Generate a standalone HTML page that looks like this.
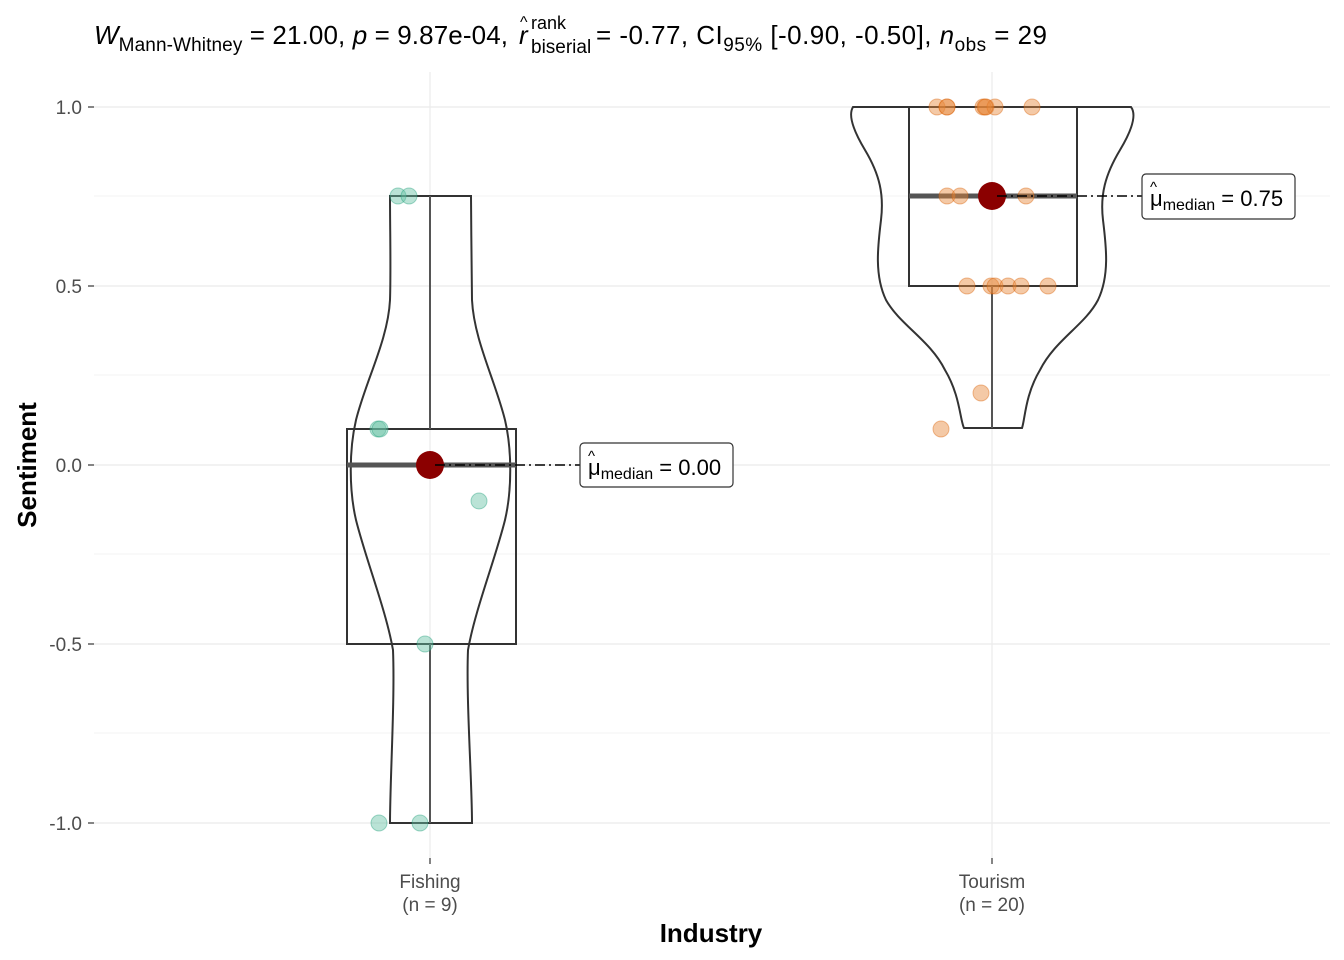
<!DOCTYPE html>
<html><head><style>body{margin:0;background:#fff}svg{display:block;font-family:"Liberation Sans",sans-serif}</style></head>
<body>
<svg width="1344" height="960" viewBox="0 0 1344 960">
<g stroke="#ebebeb" stroke-width="1.2">
<line x1="94" x2="1330" y1="107" y2="107"/><line x1="94" x2="1330" y1="286" y2="286"/><line x1="94" x2="1330" y1="465" y2="465"/><line x1="94" x2="1330" y1="644" y2="644"/><line x1="94" x2="1330" y1="823" y2="823"/>
<line x1="430" x2="430" y1="72" y2="858"/><line x1="992" x2="992" y1="72" y2="858"/>
</g>
<g stroke="#f3f3f3" stroke-width="1">
<line x1="94" x2="1330" y1="196" y2="196"/><line x1="94" x2="1330" y1="375" y2="375"/><line x1="94" x2="1330" y1="554" y2="554"/><line x1="94" x2="1330" y1="733" y2="733"/>
</g>
<g stroke="#333" stroke-width="1.2">
<line x1="88" x2="94" y1="107" y2="107"/><line x1="88" x2="94" y1="286" y2="286"/><line x1="88" x2="94" y1="465" y2="465"/><line x1="88" x2="94" y1="644" y2="644"/><line x1="88" x2="94" y1="823" y2="823"/>
<line x1="430" x2="430" y1="858" y2="864"/><line x1="992" x2="992" y1="858" y2="864"/>
</g>
<g font-size="19" fill="#4d4d4d" text-anchor="end">
<text x="82" y="114">1.0</text><text x="82" y="293">0.5</text><text x="82" y="472">0.0</text><text x="82" y="651">-0.5</text><text x="82" y="830">-1.0</text>
</g>
<g font-size="19" fill="#4d4d4d" text-anchor="middle">
<text x="430" y="888">Fishing</text><text x="430" y="911">(n = 9)</text>
<text x="992" y="888">Tourism</text><text x="992" y="911">(n = 20)</text>
</g>
<text x="711" y="942" font-size="26" font-weight="bold" text-anchor="middle">Industry</text>
<text transform="translate(36,465) rotate(-90)" font-size="26" font-weight="bold" text-anchor="middle">Sentiment</text>
<text x="94" y="44" font-size="26" fill="#000" textLength="414" lengthAdjust="spacing"><tspan font-style="italic">W</tspan><tspan font-size="19" dy="7">Mann-Whitney</tspan><tspan dy="-7"> = 21.00, </tspan><tspan font-style="italic">p</tspan><tspan> = 9.87e-04,</tspan></text>
<text x="519" y="44" font-size="26" fill="#000"><tspan font-style="italic">r</tspan></text>
<text x="531" y="29" font-size="18">rank</text>
<text x="531" y="53" font-size="19">biserial</text>
<text x="520" y="27" font-size="16">^</text>
<text x="596" y="44" font-size="26" fill="#000" textLength="451" lengthAdjust="spacing">= -0.77, CI<tspan font-size="19" dy="7">95%</tspan><tspan dy="-7"> [-0.90, -0.50], </tspan><tspan font-style="italic">n</tspan><tspan font-size="19" dy="7">obs</tspan><tspan dy="-7"> = 29</tspan></text>
<path fill="none" stroke="#333" stroke-width="2" d="M390,196 L471,196 C471,230 472,270 472,300 C474,340 495,380 505,420 C512,450 512,490 505,520 C495,560 475,610 468,650 C466,700 472,780 472,823 L390,823 C390,780 395,700 393,650 C386,610 366,560 356,520 C349,490 349,450 356,420 C366,380 388,340 390,300 C391,270 390,230 390,196 Z"/>
<path fill="none" stroke="#333" stroke-width="2" d="M853,107 L1131,107 C1137,115 1132,130 1120,150 C1105,175 1100,195 1103,220 C1106,245 1110,275 1098,300 C1085,325 1055,340 1040,370 C1025,395 1025,420 1022,428 L964,428 C960,420 960,395 945,370 C930,340 900,325 886,300 C874,275 878,245 881,220 C884,195 880,175 865,150 C853,130 848,115 853,107 Z"/>
<g fill="none" stroke="#333" stroke-width="2">
<rect x="347" y="429" width="169" height="215"/>
<rect x="909" y="107" width="168" height="179"/>
</g>
<g stroke="#555" stroke-width="2">
<line x1="430" x2="430" y1="196" y2="429"/><line x1="430" x2="430" y1="644" y2="823"/>
<line x1="992" x2="992" y1="286" y2="428"/>
</g>
<g stroke="#555" stroke-width="5"><line x1="347" x2="516" y1="465" y2="465"/><line x1="909" x2="1077" y1="196" y2="196"/></g>
<g fill="#66c2a5" fill-opacity="0.45" stroke="#1b9e77" stroke-opacity="0.4">
<circle cx="398" cy="196" r="8"/><circle cx="409" cy="196" r="8"/><circle cx="378" cy="429" r="8"/><circle cx="380" cy="429" r="8"/><circle cx="479" cy="501" r="8"/><circle cx="425" cy="644" r="8"/><circle cx="379" cy="823" r="8"/><circle cx="420" cy="823" r="8"/>
</g>
<g fill="#e6883a" fill-opacity="0.45" stroke="#d95f02" stroke-opacity="0.4">
<circle cx="937" cy="107" r="8"/><circle cx="947" cy="107" r="8"/><circle cx="983" cy="107" r="8"/><circle cx="986" cy="107" r="8"/><circle cx="995" cy="107" r="8"/><circle cx="1032" cy="107" r="8"/><circle cx="947" cy="107" r="8"/><circle cx="985" cy="107" r="8"/>
<circle cx="947" cy="196" r="8"/><circle cx="960" cy="196" r="8"/><circle cx="1026" cy="196" r="8"/>
<circle cx="967" cy="286" r="8"/><circle cx="991" cy="286" r="8"/><circle cx="995" cy="286" r="8"/><circle cx="1008" cy="286" r="8"/><circle cx="1021" cy="286" r="8"/><circle cx="1048" cy="286" r="8"/>
<circle cx="981" cy="393" r="8"/><circle cx="941" cy="429" r="8"/>
</g>
<circle cx="430" cy="465" r="14" fill="#8b0000"/>
<circle cx="992" cy="196" r="14" fill="#8b0000"/>
<g stroke="#000" stroke-width="1.5" stroke-dasharray="10,4,2,4">
<line x1="435" x2="580" y1="465" y2="465"/><line x1="997" x2="1142" y1="196" y2="196"/>
</g>
<rect x="580" y="443" width="153" height="44" rx="4" fill="#fff" stroke="#333" stroke-width="1.2"/>
<text x="588" y="475" font-size="22">μ<tspan font-size="16" dy="4">median</tspan><tspan dy="-4"> = 0.00</tspan></text>
<text x="588" y="461" font-size="15">^</text>
<rect x="1142" y="174" width="153" height="45" rx="4" fill="#fff" stroke="#333" stroke-width="1.2"/>
<text x="1150" y="206" font-size="22">μ<tspan font-size="16" dy="4">median</tspan><tspan dy="-4"> = 0.75</tspan></text>
<text x="1150" y="192" font-size="15">^</text>
</svg>
</body></html>
